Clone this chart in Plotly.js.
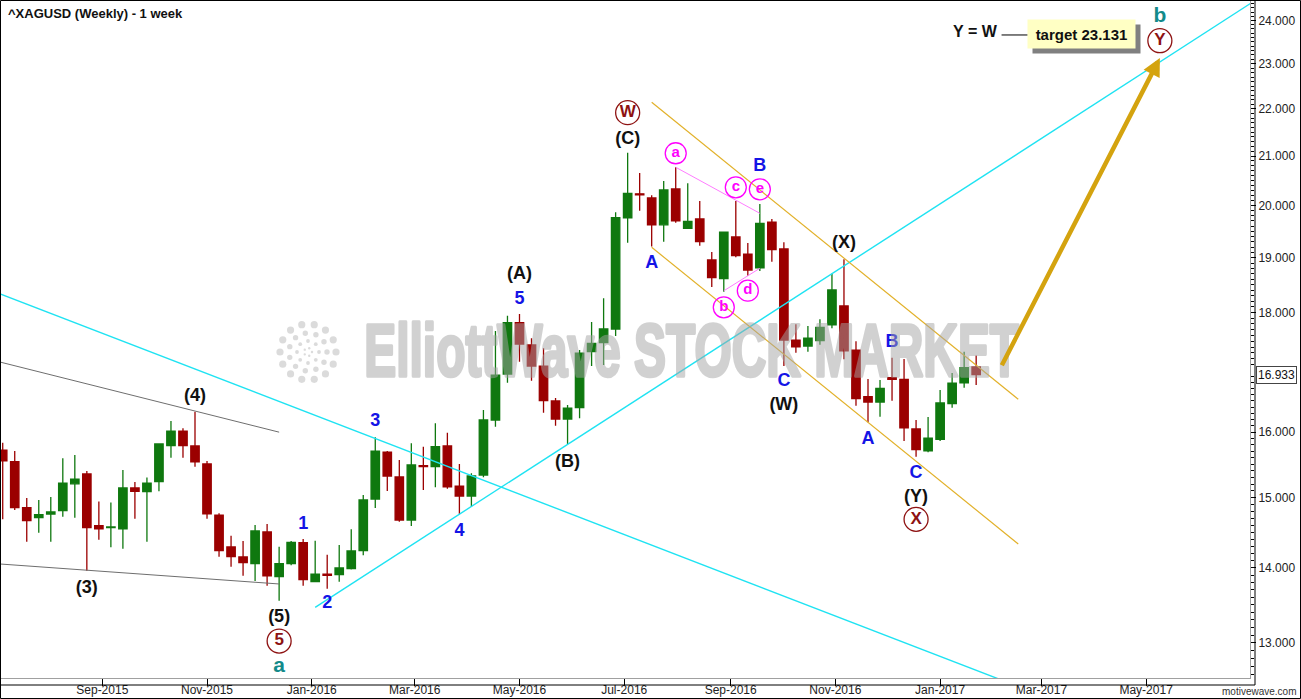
<!DOCTYPE html>
<html><head><meta charset="utf-8">
<script src="https://cdn.plot.ly/plotly-3.0.1.min.js"></script>
<style>html,body{margin:0;padding:0;background:#fff}#chart{width:1301px;height:699px}</style>
</head><body><div id="chart"></div>
<script>
// ---- weekly candles (XAGUSD) ----
const weekDates = ['2015-07-05','2015-07-12','2015-07-19','2015-07-26','2015-08-02','2015-08-09','2015-08-16','2015-08-23','2015-08-30','2015-09-06',
'2015-09-13','2015-09-20','2015-09-27','2015-10-04','2015-10-11','2015-10-18','2015-10-25','2015-11-01','2015-11-08','2015-11-15',
'2015-11-22','2015-11-29','2015-12-06','2015-12-13','2015-12-20','2015-12-27','2016-01-03','2016-01-10','2016-01-17','2016-01-24',
'2016-01-31','2016-02-07','2016-02-14','2016-02-21','2016-02-28','2016-03-06','2016-03-13','2016-03-20','2016-03-27','2016-04-03',
'2016-04-10','2016-04-17','2016-04-24','2016-05-01','2016-05-08','2016-05-15','2016-05-22','2016-05-29','2016-06-05','2016-06-12',
'2016-06-19','2016-06-26','2016-07-03','2016-07-10','2016-07-17','2016-07-24','2016-07-31','2016-08-07','2016-08-14','2016-08-21',
'2016-08-28','2016-09-04','2016-09-11','2016-09-18','2016-09-25','2016-10-02','2016-10-09','2016-10-16','2016-10-23','2016-10-30',
'2016-11-06','2016-11-13','2016-11-20','2016-11-27','2016-12-04','2016-12-11','2016-12-18','2016-12-25','2017-01-01','2017-01-08',
'2017-01-15','2017-01-22'];
const openP = [15.72,15.541,14.853,14.708,14.76,14.81,15.207,15.354,14.592,14.563,
14.548,15.144,15.089,15.238,15.788,16.018,15.784,15.506,14.746,14.289,
14.149,14.057,14.502,13.877,14.057,14.35,13.809,13.913,13.905,13.987,
14.237,14.981,15.69,15.309,14.674,15.48,15.465,15.784,15.173,15.025,
15.339,16.193,16.943,17.822,17.434,17.077,16.499,16.209,16.39,17.32,
17.477,17.711,19.762,20.233,20.151,19.626,20.33,19.558,19.738,18.957,
18.611,19.391,19.068,18.813,19.679,19.163,17.52,17.416,17.508,17.782,
18.117,17.348,16.569,16.483,16.882,16.855,16.05,15.71,15.888,16.455,
16.798,17.061];
const highP = [15.835,15.706,14.996,14.966,15.01,15.593,15.644,15.40,14.944,14.93,
15.415,15.233,15.30,15.826,16.177,16.06,16.326,15.552,14.771,14.448,
14.374,14.602,14.616,14.294,14.374,14.402,14.378,14.18,14.317,14.54,
15.04,15.919,15.705,15.567,15.826,15.773,16.14,15.992,15.506,15.364,
16.353,17.677,17.945,17.976,17.55,17.377,16.548,16.434,17.348,17.834,
18.255,19.868,21.07,20.653,20.204,20.49,20.77,20.443,20.091,19.106,
19.49,20.091,19.277,20.031,19.738,19.289,17.793,17.764,17.883,18.702,
18.971,17.497,16.86,16.843,17.217,17.195,16.193,16.241,16.678,16.96,
17.317,17.254];
const lowP = [14.684,14.819,14.364,14.491,14.364,14.722,14.708,13.959,14.392,14.285,
14.265,14.693,14.364,15.095,15.602,15.602,15.465,14.693,14.153,14.015,
13.89,13.818,13.754,13.553,14.034,13.754,13.809,13.714,13.809,13.976,
14.172,14.848,15.10,14.65,14.587,15.114,15.154,15.133,14.757,14.864,
15.304,16.087,16.798,17.15,16.831,16.31,16.102,15.815,16.22,17.077,
17.094,17.59,19.283,19.90,19.21,19.302,19.665,19.545,19.225,18.46,
18.375,19.007,18.666,18.752,18.925,17.077,17.302,17.319,17.439,17.723,
17.19,16.422,16.156,16.246,16.504,15.861,15.618,15.686,15.861,16.39,
16.715,16.76];
const closeP = [15.556,14.853,14.664,14.752,14.79,15.218,15.278,14.563,14.548,14.573,
15.144,15.095,15.218,15.815,16.018,15.788,15.541,14.765,14.237,14.153,
14.07,14.516,13.89,14.057,14.355,13.836,13.913,13.895,13.997,14.233,
14.966,15.705,15.324,14.674,15.491,15.465,15.773,15.163,15.025,15.324,
16.193,16.926,17.822,17.451,17.077,16.504,16.209,16.385,17.297,17.463,
17.711,19.762,20.243,20.213,19.626,20.31,19.704,19.692,19.302,18.63,
19.486,19.037,18.771,19.654,19.154,17.52,17.404,17.551,17.74,18.405,
17.336,16.536,16.483,16.706,16.855,16.07,15.726,15.908,16.466,16.793,
17.049,16.933];

// ---- trend lines (date, price) ----
const grayUpperX = ['2015-07-01','2015-12-13'], grayUpperY = [17.162, 16.0];
const grayLowerX = ['2015-07-01','2015-12-13'], grayLowerY = [14.056, 13.778];
const cyanDownX = ['2015-07-01','2017-04-05'], cyanDownY = [18.366, 12.067];
const cyanUpX = ['2016-01-03','2017-07-07'], cyanUpY = [13.465, 24.572];
const goldUpperX = ['2016-07-17','2017-02-15 12:00'], goldUpperY = [22.142, 16.526];
const goldLowerX = ['2016-07-17','2017-02-15 12:00'], goldLowerY = [19.195, 14.332];
const pinkUpperX = ['2016-07-31','2016-09-18'], pinkUpperY = [20.77, 19.849];
const pinkLowerX = ['2016-08-28','2016-09-18'], pinkLowerY = [18.39, 18.803];
const targetValue = 23.131, lastClose = 16.933;
const arrowTailX = '2017-02-05 12:00', arrowTailY = 17.065, arrowHeadX = '2017-05-09';

// ---- wave labels ----
const blackLblText = ['(4)','(3)','(5)','(A)','(B)','(C)','(X)','(W)','(Y)'];
const blackLblX = ['2015-10-25','2015-08-23','2015-12-13','2016-05-01','2016-05-29','2016-07-03','2016-11-06','2016-10-02','2016-12-18'];
const blackLblY = [16.569,13.719,13.333,18.679,15.526,21.35,19.26,16.422,15.006];
const blueLblText = ['1','2','3','4','5','A','B','C','A','B','C'];
const blueLblX = ['2015-12-27','2016-01-10','2016-02-07','2016-03-27','2016-05-01','2016-07-17','2016-09-18','2016-10-02','2016-11-20','2016-12-04','2016-12-18'];
const blueLblY = [14.612,13.518,16.166,14.506,18.237,18.896,20.782,16.815,15.888,17.48,15.364];
const tealLblText = ['a','b'];
const tealLblX = ['2015-12-13','2017-05-09'];
const tealLblY = [12.70,24.09];
const redCircText = ['5','W','X','Y'];
const redCircX = ['2015-12-13','2016-07-03','2016-12-18','2017-05-09'];
const redCircY = [13.025,21.917,14.684,23.527];
const pinkCircText = ['a','b','c','d','e'];
const pinkCircX = ['2016-07-31','2016-08-28','2016-09-04','2016-09-11','2016-09-18'];
const pinkCircY = [21.058,18.094,20.364,18.392,20.324];

const yTickVals = [13,14,15,16,18,19,20,21,22,23,24];
const yTickText = ['13.000','14.000','15.000','16.000','18.000','19.000','20.000','21.000','22.000','23.000','24.000'];

const F = 'Liberation Sans, Arial, Helvetica, sans-serif';
const minorVals = [];
for (let i = 126; i <= 244; i++) { if (i % 10 !== 0) minorVals.push(i / 10); }

function lineTrace(x, y, color, width) {
  return {type:'scatter', mode:'lines', x:x, y:y, line:{color:color, width:width}, hoverinfo:'skip', showlegend:false};
}
function textTrace(x, y, t, color, size) {
  return {type:'scatter', mode:'text', x:x, y:y, text:t, textposition:'middle center',
    textfont:{family:F, size:size, color:color, weight:'bold'}, hoverinfo:'skip', showlegend:false, cliponaxis:false};
}
function circTrace(x, y, t, color, msize, tsize) {
  return {type:'scatter', mode:'markers+text', x:x, y:y, text:t, textposition:'middle center',
    marker:{symbol:'circle-open', size:msize, color:color, line:{width:1.3}},
    textfont:{family:F, size:tsize, color:color, weight:'bold'}, hoverinfo:'skip', showlegend:false, cliponaxis:false};
}

const traces = [
  lineTrace(grayUpperX, grayUpperY, '#6e6e6e', 1),
  lineTrace(grayLowerX, grayLowerY, '#6e6e6e', 1),
  lineTrace(cyanDownX, cyanDownY, '#1fe3f2', 1.4),
  lineTrace(cyanUpX, cyanUpY, '#1fe3f2', 1.4),
  lineTrace(goldUpperX, goldUpperY, '#e2b12a', 1.2),
  lineTrace(goldLowerX, goldLowerY, '#e2b12a', 1.2),
  lineTrace(pinkUpperX, pinkUpperY, '#ff7cff', 1),
  lineTrace(pinkLowerX, pinkLowerY, '#ff7cff', 1),
  {type:'candlestick', x:weekDates, open:openP, high:highP, low:lowP, close:closeP,
   increasing:{line:{color:'#0f780f', width:1.3}, fillcolor:'#0f780f'},
   decreasing:{line:{color:'#9b0000', width:1.3}, fillcolor:'#9b0000'},
   whiskerwidth:0, hoverinfo:'skip', showlegend:false},
  lineTrace(['2017-02-05 19:00','2017-02-21 02:00'], [23.66, 23.66], '#000', 1),
  textTrace(blackLblX, blackLblY, blackLblText, '#111111', 18),
  textTrace(blueLblX, blueLblY, blueLblText, '#1414e6', 18),
  textTrace(tealLblX, tealLblY, tealLblText, '#138a8a', 21),
  textTrace(['2017-01-21 07:00'], [23.70], ['Y = W'], '#111111', 16),
  circTrace(redCircX, redCircY, redCircText, '#8e1212', 24, 17),
  circTrace(pinkCircX, pinkCircY, pinkCircText, '#ff00ff', 21, 15)
];

const px = v => (v - 1) / 1249;   // image x -> paper x
const py = v => (678 - v) / 677;  // image y -> paper y

const shapes = [
  {type:'rect', xref:'paper', yref:'paper', x0:px(0.5), x1:px(1300.5), y0:py(698.5), y1:py(0.5), line:{color:'#000', width:1}},
  {type:'line', xref:'paper', yref:'paper', x0:px(0.5), x1:px(1255), y0:py(685), y1:py(685), line:{color:'#000', width:1}},
  {type:'line', xref:'paper', yref:'paper', x0:px(1255), x1:px(1255), y0:py(685), y1:py(0.5), line:{color:'#000', width:1}}
];
// watermark logo: rings of faint dots (decoration)
const logoRings = [[28, 14, 3.6], [19, 11, 2.7], [11, 8, 1.9], [4, 5, 1.2]];
logoRings.forEach(function(r){
  for (let k = 0; k < r[1]; k++) {
    const a = 2 * Math.PI * k / r[1];
    const cx = 308 + r[0] * Math.cos(a), cy = 352 + r[0] * Math.sin(a);
    shapes.push({type:'circle', xref:'paper', yref:'paper', x0:px(cx - r[2]), x1:px(cx + r[2]), y0:py(cy + r[2]), y1:py(cy - r[2]),
      fillcolor:'rgba(175,175,175,0.45)', line:{width:0}});
  }
});

const layout = {
  width:1301, height:699,
  margin:{l:1, r:51, t:1, b:21, autoexpand:false},
  paper_bgcolor:'#fff', plot_bgcolor:'#fff',
  hovermode:false, showlegend:false,
  boxgap:0.3, boxgroupgap:0,
  title:{text:'<b>^XAGUSD (Weekly) - 1 week</b>', xref:'container', yref:'container',
    x:8/1301, xanchor:'left', y:1-13.5/699, yanchor:'middle', font:{family:F, size:13, color:'#111'}},
  xaxis:{type:'date', range:['2015-07-04 00:00','2017-06-30 12:00'], tick0:'2015-09-01', dtick:'M2',
    tickformat:'%b-%Y', ticks:'outside', ticklen:7, tickcolor:'#000', tickwidth:1, ticklabelstandoff:-6,
    showline:true, linecolor:'#a0a0a0', linewidth:1, showgrid:false, zeroline:false,
    tickfont:{family:F, size:12, color:'#222'}, rangeslider:{visible:false}, fixedrange:true},
  yaxis:{type:'log', side:'right', range:[1.09897, 1.38855], tickmode:'array', tickvals:yTickVals, ticktext:yTickText,
    ticks:'outside', ticklen:5, tickcolor:'#000', tickwidth:1, showline:true, linecolor:'#a0a0a0', linewidth:1,
    showgrid:false, zeroline:false, tickfont:{family:F, size:12, color:'#222'}, fixedrange:true,
    minor:{tickmode:'array', tickvals:minorVals, ticks:'outside', ticklen:3, tickcolor:'#000', tickwidth:1, showgrid:false}},
  shapes:shapes,
  annotations:[
    {xref:'paper', yref:'paper', x:px(691), y:py(350), xanchor:'center', yanchor:'middle', showarrow:false,
     text:'ElliottWave STOCK MARKET', font:{family:F, size:74, color:'rgb(165,165,165)', weight:'bold'}},
    {x:arrowHeadX, y:Math.log10(targetValue), ax:arrowTailX, ay:Math.log10(arrowTailY), axref:'x', ayref:'y',
     text:'', showarrow:true, arrowhead:2, arrowsize:0.8, arrowwidth:4.5, arrowcolor:'#d4a30f', standoff:0, startstandoff:0},
    {x:'2017-03-24 10:00', y:Math.log10(23.678), text:' ', showarrow:false, width:107, height:28, borderpad:0,
     bgcolor:'#808080', xshift:5, yshift:-5},
    {x:'2017-03-24 10:00', y:Math.log10(23.678), text:'<b>target ' + targetValue.toFixed(3) + '</b>', showarrow:false,
     width:107, height:28, borderpad:0, bgcolor:'#ffffc4', font:{family:F, size:15, color:'#111'}},
    {xref:'paper', x:px(1256), xanchor:'left', yref:'y', y:Math.log10(lastClose), yanchor:'middle',
     text:lastClose.toFixed(3), showarrow:false, bgcolor:'#fff', bordercolor:'#444', borderwidth:1, borderpad:1,
     font:{family:F, size:12, color:'#111'}},
    {xref:'paper', yref:'paper', x:px(1298), xanchor:'right', y:py(692), yanchor:'middle', showarrow:false,
     text:'motivewave.com', font:{family:F, size:10, color:'#333'}}
  ]
};

Plotly.newPlot('chart', traces, layout, {staticPlot:true, displayModeBar:false}).then(function(gd){
  const els = gd.querySelectorAll('.annotation-text');
  els.forEach(function(t){
    if (t.textContent === 'ElliottWave STOCK MARKET') {
      t.style.stroke = 'rgb(165,165,165)';
      t.style.strokeWidth = '3.5px';
      t.style.strokeLinejoin = 'round';
      t.style.opacity = '0.5';
      const bb = t.getBBox();
      const cx = bb.x + bb.width / 2;
      const s = 655 / bb.width;
      t.setAttribute('transform', 'matrix(' + s + ',0,0,1,' + (cx * (1 - s)) + ',0)');
    }
  });
});
</script>
</body></html>
